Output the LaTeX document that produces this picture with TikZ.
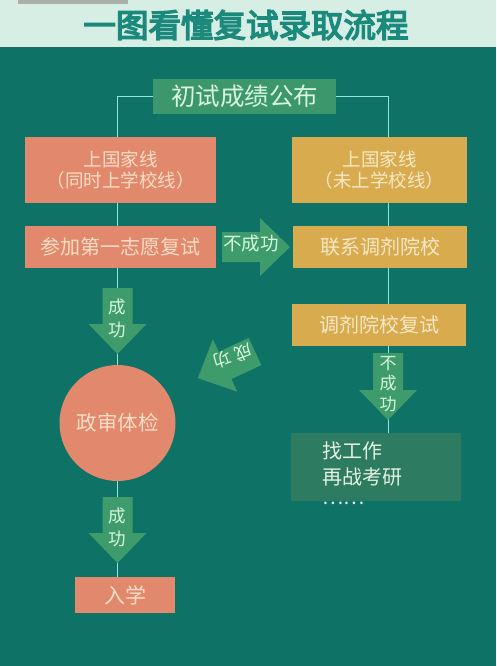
\documentclass[tikz,border=0pt]{standalone}
\usepackage{fontspec}
\setmainfont{Noto Sans CJK SC}
\newfontfamily\titlefont[FakeBold=4.5]{Noto Sans CJK SC}
\definecolor{bgteal}{HTML}{0E7266}
\definecolor{band}{HTML}{D6EEE4}
\definecolor{tabgray}{HTML}{A9AFA6}
\definecolor{titlec}{HTML}{1C897D}
\definecolor{salmon}{HTML}{E2886C}
\definecolor{gold}{HTML}{D8AB4E}
\definecolor{agreen}{HTML}{3E9C6C}
\definecolor{topgreen}{HTML}{3D976C}
\definecolor{darkbox}{HTML}{2D7B60}
\definecolor{linec}{HTML}{8FE6DE}
\definecolor{creamS}{HTML}{F8DEC6}
\definecolor{creamG}{HTML}{F6E8C6}
\definecolor{mint}{HTML}{D8F6DE}
\definecolor{jobtxt}{HTML}{E4F2E2}
\newcommand\blkarrow[4]{%
  \fill[agreen,shift={(#1,#2)},rotate=#3]
    (0,-15) -- (#4-30,-15) -- (#4-30,-29) -- (#4,0) -- (#4-30,29) -- (#4-30,15) -- (0,15) -- cycle;}
\begin{document}
\begin{tikzpicture}[x=1pt,y=-1pt,
  box/.style={rectangle, inner sep=0pt, align=center, font=\fontsize{18.5}{21.5}\selectfont},
  sbox/.style={box, fill=salmon, text=creamS},
  gbox/.style={box, fill=gold, text=creamG},
  conn/.style={draw=linec, line width=0.8pt},
  arrtext/.style={text=mint, font=\fontsize{17.5}{23}\selectfont, inner sep=0pt, align=center}
]
\useasboundingbox (0,0) rectangle (496,666);
\fill[bgteal] (0,0) rectangle (496,666);
\fill[band] (0,0) rectangle (496,47.5);
\fill[tabgray] (18,0) rectangle (128,4);
\node[text=titlec, inner sep=0pt, font=\titlefont\fontsize{32.5}{36}\selectfont] (title) at (246,25) {一图看懂复试录取流程};

\coordinate (lx) at (117.5,0);
\coordinate (rx) at (388,0);

\node[box, fill=topgreen, text=mint, minimum width=183pt, minimum height=35pt,
      font=\fontsize{24.5}{28}\selectfont] (top) at (244.5,96.5) {初试成绩公布};

\node[sbox, minimum width=191pt, minimum height=66pt] (l1) at (120.5,170) {上国家线\\（同时上学校线）};
\node[gbox, minimum width=175pt, minimum height=66pt] (r1) at (379.5,170) {上国家线\\（未上学校线）};
\node[sbox, minimum width=191pt, minimum height=42pt, font=\fontsize{20}{24}\selectfont] (l2) at (120.5,247) {参加第一志愿复试};
\node[gbox, minimum width=174pt, minimum height=42pt, font=\fontsize{20}{24}\selectfont] (r2) at (380,247) {联系调剂院校};
\node[gbox, minimum width=174pt, minimum height=42pt, font=\fontsize{20}{24}\selectfont] (r3) at (379,325) {调剂院校复试};
\node[circle, fill=salmon, text=creamS, inner sep=0pt, minimum size=116pt, font=\fontsize{20.5}{24}\selectfont] (circ) at (117.5,423) {政审体检};
\node[sbox, minimum width=100pt, minimum height=36pt, font=\fontsize{21}{24}\selectfont] (ru) at (125,595) {入学};
\node[rectangle, fill=darkbox, inner sep=0pt, minimum width=170pt, minimum height=68pt] (job) at (376,467) {};
\node[anchor=north west, inner sep=0pt, align=left, text=jobtxt, font=\fontsize{20}{26}\selectfont] (jobtext) at (322,441) {找工作\\再战考研\\[-6pt]……};

% connectors
\draw[conn] (top.west) -| (l1.north -| lx);
\draw[conn] (top.east) -| (r1.north -| rx);
\draw[conn] (l1.south -| lx) -- (l2.north -| lx);
\draw[conn] (l2.south -| lx) -- (circ.north);
\draw[conn] (circ.south) -- (ru.north -| circ.south);
\draw[conn] (r1.south -| rx) -- (r2.north -| rx);
\draw[conn] (r2.south -| rx) -- (r3.north -| rx);
\draw[conn] (r3.south -| rx) -- (job.north -| rx);

% block arrows
\blkarrow{222}{247}{0}{68}
\node[arrtext, font=\fontsize{18.5}{22}\selectfont] (a1) at (251,244) {不成功};
\blkarrow{117.5}{288}{-90}{66}
\node[arrtext] (a2) at (117.5,318) {成\\功};
\blkarrow{255}{351.5}{205}{63}
\node[arrtext, rotate=200] (a3) at (233,356) {成\hspace{4pt}功};
\blkarrow{388}{353}{-90}{67}
\node[arrtext, font=\fontsize{17}{20.5}\selectfont] (a4) at (388,384) {不\\成\\功};
\blkarrow{117.5}{497}{-90}{66}
\node[arrtext] (a5) at (117.5,527) {成\\功};
\end{tikzpicture}
\end{document}
